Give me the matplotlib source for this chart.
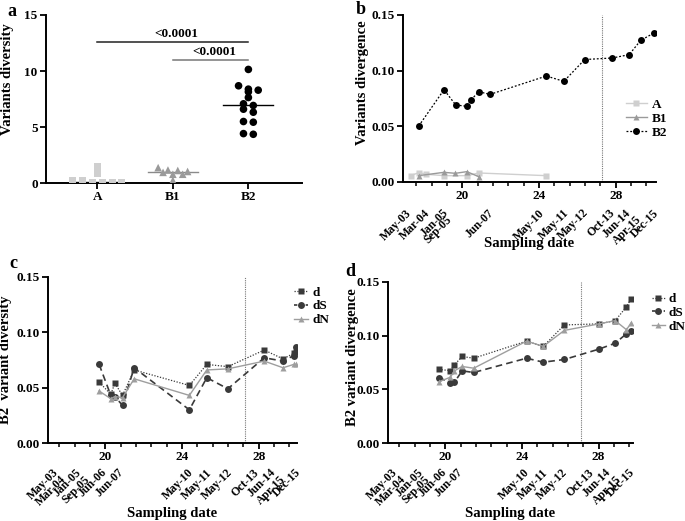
import numpy as np
import matplotlib
matplotlib.use('Agg')
import matplotlib.pyplot as plt
from matplotlib.ticker import MultipleLocator, FixedLocator
from matplotlib.lines import Line2D

plt.rcParams['font.family'] = ['Liberation Serif', 'DejaVu Serif']
plt.rcParams['font.weight'] = 'bold'
plt.rcParams['axes.labelweight'] = 'bold'

# ---------------- data ----------------
# panel a
groups = ['A', 'B1', 'B2']
div_A = [0, 0, 0, 0, 0.24, 0.24, 0.84, 1.5]
div_B1 = [0.24, 0.78, 0.78, 0.95, 1.03, 1.12, 1.16, 1.37]
div_B2 = [4.35, 4.41, 5.43, 5.49, 6.32, 6.59, 6.92, 7.07, 7.63, 8.14, 8.29, 8.38, 8.68, 10.14]
p_text = ['<0.0001', '<0.0001']
p_pairs = [(0, 2), (1, 2)]
p_height = [12.56, 10.95]

# panel b
t_A = [17.30, 17.72, 18.12, 19.04, 20.23, 20.85, 24.38]
dv_A = [0.0057, 0.0084, 0.0069, 0.0057, 0.0057, 0.0081, 0.0057]
t_B1 = [17.72, 19.04, 19.63, 20.23, 20.85]
dv_B1 = [0.0057, 0.0087, 0.0078, 0.0093, 0.0048]
t_B2 = [17.72, 19.04, 19.65, 20.23, 20.43, 20.85, 21.44, 24.38, 25.29, 26.38, 27.83, 28.70, 29.30, 30.02]
dv_B2 = [0.0503, 0.0829, 0.0692, 0.0680, 0.0734, 0.0811, 0.0787, 0.0952, 0.0904,
         0.1100, 0.1114, 0.1144, 0.1272, 0.1341]
dates_b = ['May-03', 'Mar-04', 'Jan-05', 'Sep-05', 'Jun-07', 'May-10', 'May-11',
           'May-12', 'Oct-13', 'Jun-14', 'Apr-15', 'Dec-15']
date_pos_b = [17.25, 18.19, 19.18, 19.34, 21.53, 24.19, 25.49, 26.48, 27.84, 28.68, 29.25, 30.13]

# panel c (B2 diversity)
t_c = [19.67, 20.28, 20.49, 20.89, 21.50, 24.38, 25.29, 26.39, 28.29, 29.27, 29.83, 29.95]
c_d = [0.055, 0.044, 0.054, 0.043, 0.066, 0.052, 0.071, 0.069, 0.084, 0.076, 0.081, 0.082]
c_dS = [0.071, 0.043, 0.042, 0.034, 0.068, 0.030, 0.059, 0.049, 0.077, 0.074, 0.079, 0.087]
c_dN = [0.047, 0.040, 0.042, 0.041, 0.058, 0.043, 0.066, 0.067, 0.074, 0.068, 0.071, 0.071]

# panel d (B2 divergence)
t_d = [19.65, 20.26, 20.47, 20.87, 21.48, 24.24, 25.11, 26.21, 28.03, 28.87, 29.46, 29.69]
d_d = [0.0685, 0.0675, 0.0728, 0.0806, 0.0790, 0.0949, 0.0900, 0.1100, 0.1110, 0.1140, 0.1270, 0.1340]
d_dS = [0.0610, 0.0563, 0.0566, 0.0672, 0.0657, 0.0790, 0.0753, 0.0778, 0.0875, 0.0930, 0.1018, 0.1040]
d_dN = [0.0570, 0.0613, 0.0672, 0.0713, 0.0697, 0.0949, 0.0900, 0.1049, 0.1110, 0.1140, 0.1055, 0.1117]

dates_cd = ['May-03', 'Mar-04', 'Jan-05', 'Sep-05', 'Jun-06', 'Jun-07', 'May-10', 'May-11',
            'May-12', 'Oct-13', 'Jun-14', 'Apr-15', 'Dec-15']
date_pos_c = [17.45, 17.87, 18.65, 19.07, 19.96, 20.85, 24.52, 25.47, 26.52, 27.93, 28.77, 29.30, 30.08]
date_pos_d = [17.43, 17.86, 18.73, 19.08, 20.00, 20.82, 24.30, 25.25, 26.30, 27.69, 28.56, 29.08, 29.77]

series_names = ['d', 'dS', 'dN']

# ---------------- style ----------------
C_A = '#cfcfcf'
C_B1 = '#9a9a9a'
C_B2 = '#000000'
C_DARK = '#3a3a3a'
C_LIGHT = '#9e9e9e'
TICK_FS = 9.5
LABEL_FS = 10.5
DATE_FS = 8.5

fig = plt.figure(figsize=(6.85, 5.21), dpi=100)
W, H = 685, 521


def add_axes_px(left, top, right, bottom):
    return fig.add_axes([left / W, 1 - bottom / H, (right - left) / W, (bottom - top) / H])


def style_axes(ax):
    for s in ['top', 'right']:
        ax.spines[s].set_visible(False)
    for s in ['left', 'bottom']:
        ax.spines[s].set_linewidth(1.4)
    ax.tick_params(which='major', direction='out', length=4, width=1.3, labelsize=TICK_FS, pad=2)
    ax.tick_params(which='minor', direction='out', length=3, width=1.1)
    for lab in ax.get_xticklabels() + ax.get_yticklabels():
        lab.set_fontweight('bold')


def row_offsets(vals, h, step):
    vals = np.asarray(vals, float)
    order = np.argsort(-vals, kind='stable')
    rows = []
    for i in order:
        if rows and vals[rows[-1][0]] - vals[i] <= h:
            rows[-1].append(i)
        else:
            rows.append([i])
    offs = np.zeros(len(vals))
    for r in rows:
        n = len(r)
        for k, i in enumerate(r):
            offs[i] = (k - (n - 1) / 2) * step
    return offs


def time_axis(ax, xlim, dates, pos, vline, base_dy):
    ax.set_xlim(*xlim)
    ax.set_ylim(0, 0.15)
    ax.xaxis.set_major_locator(FixedLocator([20, 24, 28]))
    ax.xaxis.set_minor_locator(MultipleLocator(0.8))
    ax.yaxis.set_major_locator(MultipleLocator(0.05))
    ax.yaxis.set_major_formatter(matplotlib.ticker.FormatStrFormatter('%.2f'))
    ax.axvline(vline, color='#777777', lw=0.8, ls=(0, (1, 1)), zorder=1)
    style_axes(ax)
    prev = -99
    shifted = False
    for lab, x in zip(dates, pos):
        dy = base_dy
        if x - prev < 0.6 and not shifted:
            dy += 5
            shifted = True
        else:
            shifted = False
        prev = x
        ax.annotate(lab, xy=(x, 0), xycoords=('data', 'axes fraction'),
                    xytext=(0, -dy), textcoords='offset points',
                    rotation=45, rotation_mode='anchor', ha='right', va='center',
                    fontsize=DATE_FS, fontweight='bold')


def bold_legend(leg):
    for t in leg.get_texts():
        t.set_fontweight('bold')


# ---------------- panel a ----------------
axa = add_axes_px(46, 15, 302, 183)
vals_list = [div_A, div_B1, div_B2]
markers = ['s', '^', 'o']
colors = [C_A, C_B1, C_B2]
msizes = [26, 30, 30]
med_colors = ['#222222', '#8a8a8a', '#000000']
for i, (vals, m, c, s, mc) in enumerate(zip(vals_list, markers, colors, msizes, med_colors)):
    offs = row_offsets(vals, 0.4, 0.13)
    axa.scatter(i + offs, vals, marker=m, s=s, color=c, edgecolor='none', zorder=3)
    med = np.median(vals)
    axa.plot([i - 0.33, i + 0.33], [med, med], color=mc, lw=1.0, zorder=2)
for (g1, g2), hgt, txt, lc in zip(p_pairs, p_height, p_text, ['#222222', '#777777']):
    axa.plot([g1, g2], [hgt, hgt], color=lc, lw=1.1)
    axa.text((g1 + g2) / 2 + 0.05, hgt + 0.25, txt, ha='center', va='bottom',
             fontsize=9.5, fontweight='bold')
axa.set_xlim(-0.68, 2.71)
axa.set_ylim(0, 15)
axa.set_xticks(range(len(groups)))
axa.set_xticklabels(groups)
axa.yaxis.set_major_locator(MultipleLocator(5))
style_axes(axa)
axa.set_ylabel('Variants diversity', fontsize=LABEL_FS, fontweight='bold')
axa.yaxis.set_label_coords(-0.125, 0.62)

# ---------------- panel b ----------------
axb = add_axes_px(403, 15, 656, 182)
axb.plot(t_A, dv_A, color=C_A, lw=1.0, marker='s', ms=5, mec='none', label='A', zorder=3)
axb.plot(t_B1, dv_B1, color=C_B1, lw=1.0, marker='^', ms=5, mec='none', label='B1', zorder=3)
axb.plot(t_B2, dv_B2, color=C_B2, lw=0.9, ls=(0, (1.5, 1.5)), marker='o', ms=5, mec='none',
         label='B2', zorder=3)
time_axis(axb, (16.9, 30.1), dates_b, date_pos_b, 27.3, 21)
axb.set_ylabel('Variants divergence', fontsize=LABEL_FS, fontweight='bold')
axb.yaxis.set_label_coords(-0.135, 0.593)
axb.set_xlabel('Sampling date', fontsize=LABEL_FS, fontweight='bold')
axb.xaxis.set_label_coords(0.5, -0.33)
bold_legend(axb.legend(loc='upper left', bbox_to_anchor=(0.86, 0.53), frameon=False,
                       fontsize=9.5, handlelength=1.6, handletextpad=0.4, labelspacing=0.12,
                       borderaxespad=0))

# ---------------- panels c, d ----------------
def three_series(ax, t, yd, yS, yN):
    ax.plot(t, yd, color=C_DARK, lw=0.9, ls=(0, (1, 1.3)), marker='s', ms=5, mec='none', zorder=3)
    ax.plot(t, yS, color=C_DARK, lw=1.2, ls=(0, (4, 2.5)), marker='o', ms=5, mec='none', zorder=3)
    ax.plot(t, yN, color=C_LIGHT, lw=1.0, ls='-', marker='^', ms=5, mec='none', zorder=3)
    handles = [Line2D([], [], color=C_DARK, lw=0.9, ls=(0, (1, 1.3)), marker='s', ms=5, mec='none'),
               Line2D([], [], color=C_DARK, lw=1.2, ls=(0, (2, 1.5)), marker='o', ms=5, mec='none'),
               Line2D([], [], color=C_LIGHT, lw=1.0, marker='^', ms=5, mec='none')]
    return handles


axc = add_axes_px(48, 277, 297, 443)
hc = three_series(axc, t_c, c_d, c_dS, c_dN)
time_axis(axc, (17.0, 30.0), dates_cd, date_pos_c, 27.3, 20)
axc.set_ylabel('B2  variant diversity', fontsize=LABEL_FS, fontweight='bold')
axc.yaxis.set_label_coords(-0.145, 0.5)
axc.set_xlabel('Sampling date', fontsize=LABEL_FS, fontweight='bold')
axc.xaxis.set_label_coords(0.5, -0.385)
bold_legend(axc.legend(hc, series_names, loc='upper left', bbox_to_anchor=(0.965, 0.975),
                       frameon=False, fontsize=9.5, handlelength=1.1, handletextpad=0.35,
                       labelspacing=0.12, borderaxespad=0))

axd = add_axes_px(388, 282, 633, 443)
hd = three_series(axd, t_d, d_d, d_dS, d_dN)
time_axis(axd, (17.0, 29.8), dates_cd, date_pos_d, 27.1, 20)
axd.set_ylabel('B2 variant divergence', fontsize=LABEL_FS, fontweight='bold')
axd.yaxis.set_label_coords(-0.12, 0.534)
axd.set_xlabel('Sampling date', fontsize=LABEL_FS, fontweight='bold')
axd.xaxis.set_label_coords(0.5, -0.395)
bold_legend(axd.legend(hd, series_names, loc='upper left', bbox_to_anchor=(1.055, 0.965),
                       frameon=False, fontsize=9.5, handlelength=1.0, handletextpad=0.3,
                       labelspacing=0.12, borderaxespad=0))

# panel letters
for lab, x, y in [('a', 12, 12), ('b', 361, 10), ('c', 13, 263), ('d', 350, 272)]:
    fig.text(x / W, 1 - y / H, lab, fontsize=13, fontweight='bold', ha='center', va='center')

fig.savefig('out.png', dpi=100)
